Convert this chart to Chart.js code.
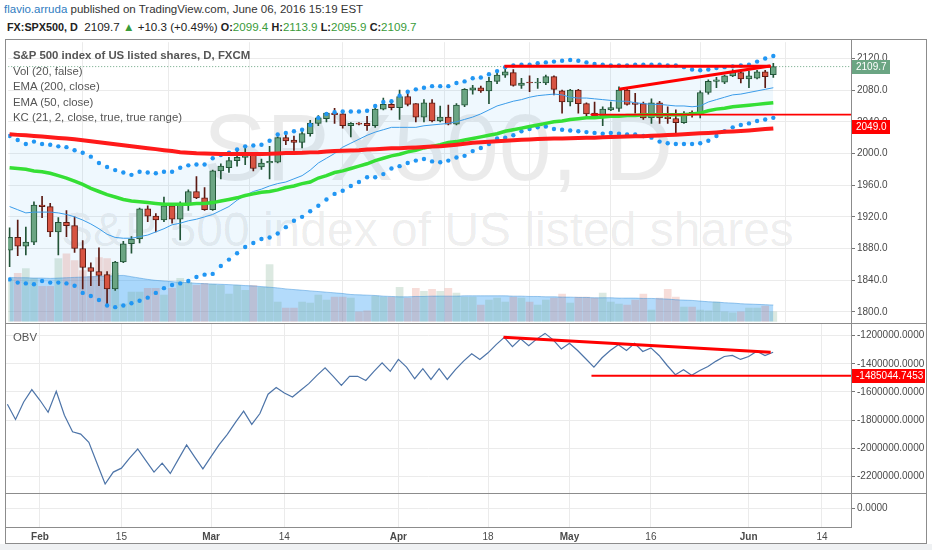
<!DOCTYPE html>
<html>
<head>
<meta charset="utf-8">
<script src="https://cdn.jsdelivr.net/npm/chart.js@4.4.0/dist/chart.umd.min.js"></script>
<style>
  html, body { margin: 0; padding: 0; background: #fff; }
  body { width: 932px; height: 550px; position: relative; overflow: hidden; font-family: "Liberation Sans", Arial, sans-serif; }
  .abs { position: absolute; white-space: nowrap; }
  #hdr1 { left: 4px; top: 3px; font-size: 11.5px; color: #333; }
  #hdr1 .user { color: #2f7cc1; }
  #hdr2 { left: 7px; top: 20px; font-size: 11.6px; color: #222; }
  #hdr2 b { font-size: 10.8px; }
  #hdr2 .g { color: #3a9b3a; }
  .wm { color: rgba(0, 0, 0, 0.08); font-family: "Liberation Sans", Arial, sans-serif; line-height: 1; }
  #wm1 { left: 203px; top: 100px; font-size: 95px; }
  #wm2 { left: 61px; top: 206px; font-size: 48px; }
  #frame { left: 5px; top: 39px; width: 920px; height: 503px; border: 1px solid #8c8c8c; }
  .sep { background: #8c8c8c; height: 1px; }
  canvas { position: absolute; }
  .leg { left: 13px; font-size: 11.4px; color: #555; }
  #legTitle { top: 49px; font-weight: bold; }
  #bottomStrip { left: 0; top: 544px; width: 932px; height: 6px; background: #eff1f3; }
</style>
</head>
<body>
<div id="hdr1" class="abs"><span class="user">flavio.arruda</span> published on TradingView.com, June 06, 2016 15:19 EST</div>
<div id="hdr2" class="abs"><b>FX:SPX500, D</b>&nbsp; 2109.7 <span class="g">&#9650;</span> +10.3 (+0.49%) <b>O:</b><span class="g">2099.4</span> <b>H:</b><span class="g">2113.9</span> <b>L:</b><span class="g">2095.9</span> <b>C:</b><span class="g">2109.7</span></div>

<div id="wm1" class="abs wm">SPX500, D</div>
<div id="wm2" class="abs wm">S&amp;P 500 index of US listed shares</div>

<canvas id="cPrice" width="920" height="284" style="left:6px; top:40px;"></canvas>
<canvas id="cObv" width="920" height="169" style="left:6px; top:324px;"></canvas>
<canvas id="cBot" width="920" height="49" style="left:6px; top:494px;"></canvas>

<div id="frame" class="abs"></div>
<div class="abs sep" style="left:6px; top:323px; width:920px;"></div>
<div class="abs sep" style="left:6px; top:493px; width:920px;"></div>
<div class="abs" style="left:851px; top:40px; width:1px; height:487px; background:#8c8c8c;"></div>
<div id="bottomStrip" class="abs"></div>

<div id="legTitle" class="abs leg">S&amp;P 500 index of US listed shares, D, FXCM</div>
<div class="abs leg" style="top:65px;">Vol (20, false)</div>
<div class="abs leg" style="top:80px;">EMA (200, close)</div>
<div class="abs leg" style="top:96px;">EMA (50, close)</div>
<div class="abs leg" style="top:111px;">KC (21, 2, close, true, true range)</div>
<div class="abs leg" style="top:331px;">OBV</div>

<script>
// daily bars, weekdays only; index 0 = Mon 1 Feb 2016, first candle = Tue 26 Jan
const startIdx = -4;
const viewFrom = -4.17, viewTo = 99.56;

const tickIdx  = [0, 10, 21, 30, 44, 55, 65, 75, 87, 96];
const tickText = ['Feb', '15', 'Mar', '14', 'Apr', '18', 'May', '16', 'Jun', '14'];
const priceTicks = [1800, 1840, 1880, 1920, 1960, 2000, 2040, 2080, 2120];
const obvTicks = [-2200000, -2000000, -1800000, -1600000, -1400000, -1200000];

const open = [1878,1894,1883,1888,1935,1933,1901,1913,1909,1880,
  1856,1851,1847,1829,1863,1886,1892,1930,1921,1916,
  1934,1917,1935,1952,1944,1929,1978,1982,1991,1995,
  2000,1983,1988,1989,2020,2017,2014,2025,2038,2044,
  2051,2050,2035,2038,2038,2035,2056,2062,2058,2072,
  2063,2046,2064,2041,2046,2037,2061,2080,2083,2079,
  2091,2099,2102,2086,2090,2089,2089,2097,2079,2065,
  2080,2063,2051,2047,2055,2057,2080,2064,2063,2045,
  2064,2046,2044,2039,2052,2049,2077,2091,2090,2098,
  2102,2094,2095,2103,2099.4];
const high = [1906,1916,1907,1939,1946,1937,1919,1928,1920,1890,
  1862,1881,1851,1864,1889,1895,1931,1934,1924,1945,
  1937,1939,1954,1971,1957,1979,1987,1995,2004,2007,
  2001,1993,2009,2021,2024,2022,2028,2042,2048,2052,
  2057,2052,2039,2039,2047,2061,2070,2066,2080,2076,
  2063,2068,2068,2060,2061,2063,2082,2086,2085,2096,
  2102,2107,2106,2095,2098,2095,2099,2098,2080,2081,
  2081,2064,2065,2059,2065,2084,2082,2076,2065,2069,
  2066,2059,2055,2053,2054,2079,2093,2096,2099,2106,
  2105,2104,2105,2105,2113.9];
const low = [1857,1871,1872,1885,1919,1895,1872,1895,1875,1829,
  1833,1833,1810,1827,1862,1874,1887,1914,1901,1914,
  1912,1891,1928,1943,1928,1928,1968,1976,1984,1986,
  1978,1980,1968,1988,2011,2004,2007,2022,2035,2040,
  2038,2032,2021,2036,2029,2033,2055,2055,2043,2060,
  2040,2040,2040,2040,2036,2036,2059,2075,2077,2063,
  2088,2096,2085,2082,2078,2082,2087,2074,2051,2060,
  2051,2047,2045,2035,2054,2053,2061,2051,2043,2038,
  2038,2038,2026,2038,2046,2045,2075,2083,2088,2097,
  2089,2083,2094,2083,2095.9];
const close = [1894,1883,1888,1935,1933,1901,1913,1909,1880,1856,
  1851,1846,1829,1863,1886,1892,1930,1921,1916,1934,
  1917,1935,1952,1944,1929,1978,1984,1991,1995,2000,
  1981,1988,1990,2020,2016,2014,2025,2038,2045,2051,
  2049,2035,2038,2037,2035,2056,2062,2058,2072,2062,
  2046,2064,2041,2046,2037,2061,2081,2083,2079,2091,
  2099,2103,2086,2089,2089,2090,2097,2081,2065,2080,
  2063,2050,2047,2056,2058,2080,2062,2062,2045,2064,
  2045,2044,2039,2051,2049,2077,2091,2093,2098,2103,
  2094,2098,2103,2097,2109.7];

const vol = [132,147,162,132,108,108,192,207,186,156,
  138,195,192,147,54,90,90,102,102,81,
  102,132,120,111,117,114,111,84,111,96,
  111,105,174,60,42,42,60,57,81,66,
  75,75,72,30,33,78,75,75,105,72,
  102,93,99,93,102,87,75,75,51,66,
  72,60,75,72,60,51,66,72,84,57,
  75,75,72,87,60,54,51,66,84,36,
  72,99,75,45,45,36,33,60,30,27,
  30,42,42,48,30];
const volMA = [135,134,134,133,133,132,133,134,135,136,
  137,138,139,140,141,137,133,129,126,124,
  122,120,119,117,116,115,114,113,112,110,
  109,107,105,103,100,98,96,94,92,90,
  88,86,83,82,81,80,78,77,76,76,
  77,77,78,78,78,78,79,79,79,79,
  79,79,78,78,77,77,76,76,75,75,
  74,74,73,73,73,72,72,72,71,71,
  70,69,67,66,65,63,61,60,58,57,
  55,54,53,52,51];

const ema200 = [2024.2,2023.5,2022.9,2022.0,2021.3,2020.4,2019.7,2018.8,2017.9,2016.7,
  2015.4,2014.2,2012.9,2011.7,2010.5,2009.2,2008.0,2006.7,2005.5,2004.2,
  2003.0,2001.7,2000.9,2000.2,1999.9,1999.6,1999.2,1999.2,1999.2,1999.2,
  1999.2,1999.4,1999.6,2000.1,2000.5,2000.7,2000.9,2001.4,2001.7,2002.4,
  2003.0,2003.6,2003.9,2004.2,2004.9,2005.5,2006.1,2006.5,2006.7,2007.2,
  2007.7,2008.2,2008.7,2009.2,2010.1,2011.1,2012.3,2013.6,2014.2,2014.8,
  2015.4,2016.1,2016.7,2017.2,2017.7,2018.2,2018.5,2018.8,2019.0,2019.3,
  2019.5,2019.8,2020.0,2020.4,2020.8,2021.2,2021.4,2021.7,2021.9,2022.3,
  2022.7,2023.2,2023.7,2024.2,2024.8,2025.4,2026.0,2026.6,2027.3,2027.9,
  2028.5,2029.1,2029.9,2030.8,2031.6];
const ema50 = [1982,1981,1980,1978,1977,1975,1972,1969,1965,1961,
  1956,1952,1948,1945,1942,1940,1939,1938,1937,1936,
  1936,1936,1936,1937,1937,1938,1940,1942,1944,1947,
  1949,1951,1952,1954,1957,1959,1962,1964,1969,1972,
  1976,1978,1981,1984,1987,1991,1994,1997,1999,2002,
  2004,2007,2009,2011,2014,2015,2017,2019,2021,2023,
  2025,2028,2030,2032,2034,2036,2038,2040,2041,2043,
  2044,2045,2045,2046,2047,2047,2048,2048,2049,2049,
  2049,2049,2049,2049,2050,2051,2054,2056,2057,2059,
  2060,2061,2062,2063,2064];
const kcUpper = [2022,2017,2012,2015,2012,2011,2009,2008,2004,2001,
  1996,1988,1983,1979,1976,1973,1977,1976,1975,1977,
  1977,1982,1985,1986,1986,1994,1998,2001,2005,2009,
  2010,2011,2016,2024,2026,2028,2030,2036,2045,2050,
  2052,2053,2053,2053,2054,2060,2065,2066,2073,2078,
  2081,2083,2085,2085,2085,2089,2091,2095,2096,2100,
  2104,2109,2111,2112,2112,2114,2115,2116,2117,2118,
  2117,2115,2113,2112,2111,2111,2111,2112,2112,2112,
  2112,2111,2111,2109,2106,2105,2106,2108,2109,2110,
  2111,2112,2116,2120,2123];
const kcLower = [1841,1837,1836,1835,1839,1837,1837,1836,1833,1824,
  1820,1815,1808,1806,1808,1811,1814,1818,1824,1830,
  1834,1836,1839,1844,1847,1848,1858,1866,1874,1882,
  1887,1892,1894,1899,1907,1915,1920,1927,1934,1942,
  1949,1953,1959,1964,1970,1970,1974,1981,1984,1988,
  1991,1993,1990,1989,1991,1995,1997,2003,2007,2012,
  2019,2020,2023,2028,2031,2033,2034,2031,2030,2029,
  2028,2027,2026,2025,2026,2025,2024,2024,2022,2020,
  2015,2013,2012,2012,2012,2013,2016,2022,2028,2033,
  2036,2038,2041,2043,2045];
const kcMid = [1933,1929,1925,1926,1926,1926,1925,1923,1920,1916,
  1911,1905,1898,1894,1893,1893,1895,1897,1901,1905,
  1910,1912,1915,1917,1920,1923,1928,1933,1941,1947,
  1952,1955,1959,1962,1964,1968,1972,1979,1988,1994,
  2000,2008,2013,2018,2023,2027,2030,2033,2033,2033,
  2033,2035,2036,2037,2038,2040,2043,2046,2050,2055,
  2060,2063,2066,2068,2071,2073,2074,2075,2074,2071,
  2070,2070,2069,2068,2067,2066,2066,2064,2063,2062,
  2062,2061,2060,2060,2059,2060,2065,2068,2071,2074,
  2075,2077,2079,2081,2083];

const obv = [-1687000,-1795000,-1671000,-1583000,-1659000,-1744000,-1595000,-1765000,-1883000,-1899000,
  -1957000,-2106000,-2254000,-2169000,-2141000,-2070000,-2005000,-2087000,-2169000,-2106000,
  -2179000,-2077000,-1976000,-2063000,-2146000,-2059000,-1974000,-1901000,-1816000,-1736000,
  -1830000,-1753000,-1616000,-1569000,-1607000,-1636000,-1588000,-1541000,-1482000,-1428000,
  -1489000,-1553000,-1489000,-1489000,-1518000,-1454000,-1393000,-1454000,-1369000,-1424000,
  -1506000,-1435000,-1511000,-1435000,-1511000,-1442000,-1381000,-1329000,-1369000,-1322000,
  -1264000,-1212000,-1278000,-1223000,-1271000,-1223000,-1184000,-1230000,-1294000,-1254000,
  -1306000,-1364000,-1424000,-1357000,-1306000,-1264000,-1306000,-1254000,-1313000,-1287000,
  -1341000,-1412000,-1477000,-1442000,-1482000,-1447000,-1419000,-1381000,-1348000,-1341000,
  -1369000,-1348000,-1311000,-1341000,-1318000];

// hand drawn lines: [bar index, value] pairs
const priceTrendTop  = [[56.9, 2110], [89.7, 2110]];
const priceTrendRise = [[71, 2081], [89.6, 2110.5]];
const priceLevel = 2049.0;
const priceLevelFrom = 67.5;
const obvTrend = [[56.9, -1212000], [89.7, -1318000]];
const obvLevel = -1485044.7453;
const obvLevelFrom = 67.7;

const lastClose = close[close.length - 1];

const UP = '#6ba583', UP_EDGE = '#225437', DN = '#d75442', DN_EDGE = '#5b1a13';
const AXIS_FONT = { family: '"Liberation Sans", Arial, sans-serif', size: 10 };

function pts(arr) { return arr.map((v, i) => ({ x: startIdx + i, y: v })); }
function seg(pairs) { return pairs.map(p => ({ x: p[0], y: p[1] })); }
const isUp = close.map((c, i) => c >= open[i]);

// price tags on the right axis (kept out of the options resolver)
function makeTags(id, items) {
  return {
    id: id,
    afterDraw(chart) {
      const ctx = chart.ctx;
      const ys = chart.scales.y;
      items.forEach(t => {
        const y = Math.round(ys.getPixelForValue(t.value) + t.shift);
        ctx.save();
        ctx.fillStyle = t.bg;
        ctx.fillRect(ys.left, y - 7, t.w, 14);
        ctx.fillStyle = '#fff';
        ctx.font = '10px "Liberation Sans", Arial, sans-serif';
        ctx.textBaseline = 'middle';
        ctx.fillText(t.text, ys.left + 5, y + 0.5);
        ctx.restore();
      });
    }
  };
}

// no label padding: each pane's plot area must fill its canvas exactly
function noPad(s) { s.paddingTop = 0; s.paddingBottom = 0; s.paddingLeft = 0; s.paddingRight = 0; }

function xScale(showLabels) {
  return {
    type: 'linear', min: viewFrom, max: viewTo, offset: false,
    afterBuildTicks: s => { s.ticks = tickIdx.map(v => ({ value: v })); },
    ticks: {
      display: showLabels, autoSkip: false, maxRotation: 0, padding: 4, color: '#4a4a4a',
      callback: (v, i) => tickText[i],
      font: c => ({ family: AXIS_FONT.family, size: 10, weight: isNaN(tickText[c.index]) ? 'bold' : 'normal' })
    },
    grid: { color: '#ebebeb', drawTicks: false },
    border: { display: showLabels, color: '#8c8c8c' },
    afterFit: s => { s.height = showLabels ? 16 : 0; noPad(s); }
  };
}

function yScale(min, max, ticks, digits) {
  return {
    position: 'right', min: min, max: max,
    afterBuildTicks: s => { s.ticks = ticks.map(v => ({ value: v })); },
    ticks: { callback: v => Number(v).toFixed(digits), color: '#4a4a4a', font: AXIS_FONT, padding: 2 },
    grid: { color: '#ebebeb', tickColor: '#777', tickLength: 4 },
    border: { display: false },
    afterFit: s => { s.width = 75; noPad(s); }
  };
}

const common = {
  responsive: false, animation: false, events: [],
  layout: { padding: 0 },
  elements: { point: { radius: 0, hoverRadius: 0 }, line: { tension: 0 } }
};

new Chart(document.getElementById('cPrice'), {
  type: 'bar',
  data: {
    datasets: [
      { type: 'line', data: seg(priceTrendTop), borderColor: '#ff0000', borderWidth: 3, order: 0 },
      { type: 'line', data: seg(priceTrendRise), borderColor: '#ff0000', borderWidth: 3, order: 0 },
      { type: 'line', data: [{ x: priceLevelFrom, y: priceLevel }, { x: viewTo, y: priceLevel }], borderColor: '#ff0000', borderWidth: 1.6, order: 0 },
      { type: 'line', data: pts(ema200), borderColor: '#ff1a1a', borderWidth: 4, order: 1 },
      { type: 'line', data: pts(ema50), borderColor: '#35df35', borderWidth: 3.5, order: 2 },
      { type: 'line', data: pts(kcUpper), borderColor: 'rgba(0,0,0,0)', borderWidth: 0, pointRadius: 2.2,
        pointBackgroundColor: '#2196f3', pointBorderWidth: 0, backgroundColor: 'rgba(33,150,243,0.07)', fill: '+1', order: 3 },
      { type: 'line', data: pts(kcLower), borderColor: 'rgba(0,0,0,0)', borderWidth: 0, pointRadius: 2.2,
        pointBackgroundColor: '#2196f3', pointBorderWidth: 0, fill: false, order: 3 },
      { type: 'line', data: pts(kcMid), borderColor: '#3b9ce9', borderWidth: 1, order: 4 },
      { type: 'bar', data: open.map((o, i) => ({ x: startIdx + i, y: [o, close[i]] })), grouped: false,
        barThickness: 6, minBarLength: 1, borderWidth: 1, borderSkipped: false,
        backgroundColor: isUp.map(u => u ? UP : DN), borderColor: isUp.map(u => u ? UP_EDGE : DN_EDGE), order: 5 },
      { type: 'bar', data: low.map((l, i) => ({ x: startIdx + i, y: [l, high[i]] })), grouped: false,
        barThickness: 1, backgroundColor: isUp.map(u => u ? UP_EDGE : DN_EDGE), order: 6 },
      { type: 'line', data: [{ x: viewFrom, y: lastClose }, { x: viewTo, y: lastClose }], borderColor: '#6ba583',
        borderWidth: 1, borderDash: [1, 2], order: 7 },
      { type: 'line', yAxisID: 'yv', data: pts(volMA), fill: 'origin', backgroundColor: 'rgba(66,165,245,0.40)',
        borderColor: 'rgba(50,140,215,0.45)', borderWidth: 1, tension: 0.3, order: 8 },
      { type: 'bar', yAxisID: 'yv', data: pts(vol), grouped: false, barThickness: 7,
        backgroundColor: isUp.map(u => u ? 'rgba(107,165,131,0.24)' : 'rgba(215,84,66,0.2)'), order: 9 }
    ]
  },
  options: Object.assign({}, common, {
    scales: {
      x: xScale(false),
      y: yScale(1787.5, 2140.5, priceTicks, 1),
      yv: { display: false, min: 0, max: 850 }
    },
    plugins: {
      legend: { display: false }, tooltip: { enabled: false },
      filler: { drawTime: 'beforeDatasetsDraw' }
    }
  }),
  plugins: [makeTags('priceTags', [
    { value: lastClose, text: lastClose.toFixed(1), bg: '#6ba583', w: 39, shift: 0 },
    { value: priceLevel, text: priceLevel.toFixed(1), bg: '#ff0000', w: 39, shift: 12 }
  ])]
});

new Chart(document.getElementById('cObv'), {
  type: 'line',
  data: {
    datasets: [
      { data: seg(obvTrend), borderColor: '#ff0000', borderWidth: 3, order: 0 },
      { data: [{ x: obvLevelFrom, y: obvLevel }, { x: viewTo, y: obvLevel }], borderColor: '#ff0000', borderWidth: 2, order: 0 },
      { data: pts(obv), borderColor: '#4d74a8', borderWidth: 1.2, order: 1 }
    ]
  },
  options: Object.assign({}, common, {
    scales: {
      x: xScale(false),
      y: yScale(-2317500, -1117400, obvTicks, 4)
    },
    plugins: { legend: { display: false }, tooltip: { enabled: false } }
  }),
  plugins: [makeTags('obvTags', [
    { value: obvLevel, text: obvLevel.toFixed(4), bg: '#ff0000', w: 74, shift: 0 }
  ])]
});

new Chart(document.getElementById('cBot'), {
  type: 'line',
  data: { datasets: [{ data: [] }] },
  options: Object.assign({}, common, {
    scales: {
      x: xScale(true),
      y: yScale(-1, 0.79, [0], 4)
    },
    plugins: { legend: { display: false }, tooltip: { enabled: false } }
  })
});
</script>
</body>
</html>
